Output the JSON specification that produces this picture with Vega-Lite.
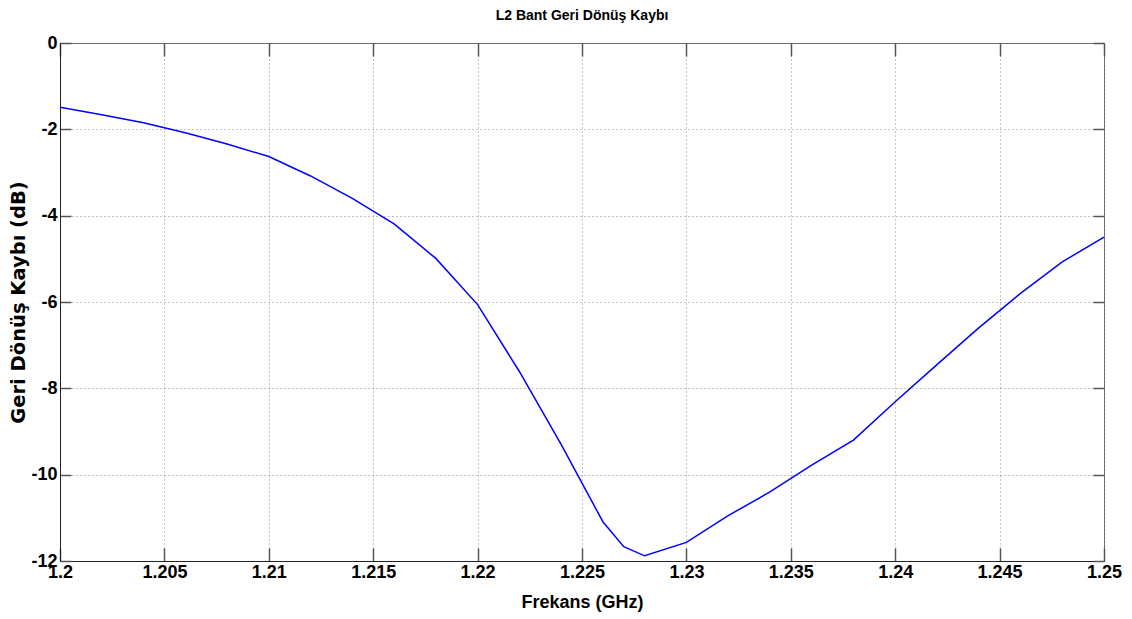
{
  "$schema": "https://vega.github.io/schema/vega-lite/v6.json",
  "width": 1044,
  "height": 518,
  "autosize": {"type": "none"},
  "padding": {"left": 60, "top": 43, "right": 28, "bottom": 58},
  "background": "white",
  "title": {
    "text": "L2 Bant Geri Dönüş Kaybı",
    "font": "Liberation Sans",
    "fontSize": 14,
    "fontWeight": "bold",
    "color": "black",
    "anchor": "middle",
    "baseline": "bottom",
    "offset": 19,
    "dy": 22
  },
  "config": {
    "view": {"stroke": "#666", "strokeWidth": 1},
    "axis": {
      "labelFont": "Liberation Sans",
      "labelFontSize": 18,
      "labelFontWeight": "bold",
      "labelColor": "black",
      "titleColor": "black",
      "titleFont": "Liberation Sans",
      "titleFontWeight": "bold",
      "domainColor": "#222",
      "tickColor": "#555",
      "tickWidth": 1.5,
      "gridColor": "#888",
      "gridDash": [1, 3],
      "gridWidth": 1,
      "gridOpacity": 1
    }
  },
  "data": {
    "values": [
      {"f": 1.2, "db": -1.49},
      {"f": 1.202, "db": -1.66},
      {"f": 1.204, "db": -1.85},
      {"f": 1.206, "db": -2.08},
      {"f": 1.208, "db": -2.34},
      {"f": 1.21, "db": -2.63},
      {"f": 1.212, "db": -3.08},
      {"f": 1.214, "db": -3.6},
      {"f": 1.216, "db": -4.19},
      {"f": 1.218, "db": -4.99},
      {"f": 1.22, "db": -6.06},
      {"f": 1.222, "db": -7.61},
      {"f": 1.224, "db": -9.3},
      {"f": 1.226, "db": -11.09},
      {"f": 1.227, "db": -11.67},
      {"f": 1.228, "db": -11.88},
      {"f": 1.23, "db": -11.57},
      {"f": 1.232, "db": -10.95},
      {"f": 1.234, "db": -10.4},
      {"f": 1.236, "db": -9.78},
      {"f": 1.238, "db": -9.2},
      {"f": 1.24, "db": -8.31},
      {"f": 1.242, "db": -7.45},
      {"f": 1.244, "db": -6.6},
      {"f": 1.246, "db": -5.8},
      {"f": 1.248, "db": -5.07},
      {"f": 1.25, "db": -4.5}
    ]
  },
  "resolve": {"axis": {"x": "independent", "y": "independent"}},
  "layer": [
    {
      "mark": {"type": "line", "color": "#0000ff", "strokeWidth": 1.5, "clip": true},
      "encoding": {
        "x": {
          "field": "f",
          "type": "quantitative",
          "scale": {"domain": [1.2, 1.25], "nice": false, "zero": false},
          "axis": {
            "orient": "bottom",
            "values": [1.2, 1.205, 1.21, 1.215, 1.22, 1.225, 1.23, 1.235, 1.24, 1.245, 1.25],
            "labelExpr": "datum.value + ''",
            "tickSize": -13,
            "labelPadding": 15,
            "labelBaseline": "top",
            "labelFlush": false,
            "labelOverlap": false,
            "title": "Frekans (GHz)",
            "titleFontSize": 18,
            "titleBaseline": "middle",
            "titleY": 41,
            "grid": true
          }
        },
        "y": {
          "field": "db",
          "type": "quantitative",
          "scale": {"domain": [-12, 0], "nice": false, "zero": false},
          "axis": {
            "orient": "left",
            "values": [-12, -10, -8, -6, -4, -2, 0],
            "labelExpr": "datum.value + ''",
            "tickSize": -11,
            "labelPadding": 14,
            "labelFlush": false,
            "labelOverlap": false,
            "title": "Geri Dönüş Kaybı (dB)",
            "titleFont": "DejaVu Sans",
            "titleFontSize": 19.5,
            "titleX": -42,
            "titleBaseline": "middle",
            "grid": true
          }
        }
      }
    },
    {
      "mark": {"type": "line", "opacity": 0, "clip": true},
      "encoding": {
        "x": {
          "field": "f",
          "type": "quantitative",
          "axis": {
            "orient": "top",
            "values": [1.2, 1.205, 1.21, 1.215, 1.22, 1.225, 1.23, 1.235, 1.24, 1.245, 1.25],
            "tickSize": -13,
            "labels": false,
            "domain": false,
            "grid": false,
            "title": null
          }
        },
        "y": {
          "field": "db",
          "type": "quantitative",
          "axis": {
            "orient": "right",
            "values": [-12, -10, -8, -6, -4, -2, 0],
            "tickSize": -11,
            "labels": false,
            "domain": false,
            "grid": false,
            "title": null
          }
        }
      }
    }
  ]
}
